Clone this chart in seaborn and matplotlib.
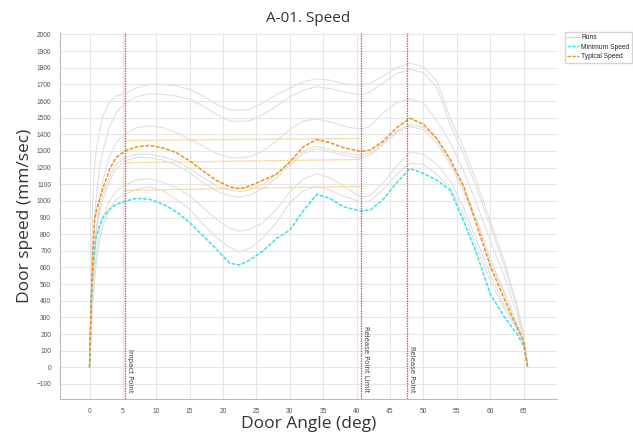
import seaborn as sns
import matplotlib.pyplot as plt
import pandas as pd
from matplotlib.ticker import MultipleLocator

# door angle knots (deg)
angle = [0, 0.25, 0.5, 0.75, 1, 1.5, 2, 3, 4, 5.3, 7, 9, 11, 13, 15, 17, 19, 21, 22.5, 24,
         26, 28, 30, 32, 34, 36, 38, 40.6, 42, 44, 46, 48, 50, 52, 54, 56, 58, 60, 62, 64, 65, 65.6]

# individual runs (mm/sec)
run1 = [0, 500, 1023, 1200, 1300, 1420, 1510, 1595, 1630, 1643, 1680, 1700, 1700, 1690, 1670, 1630, 1580, 1548, 1545, 1550,
        1590, 1640, 1675, 1715, 1733, 1725, 1705, 1694, 1705, 1750, 1800, 1827, 1805, 1720, 1500, 1320, 1110, 880, 650, 380, 200, 0]
run2 = [0, 350, 700, 900, 1020, 1200, 1300, 1450, 1530, 1587, 1625, 1643, 1640, 1630, 1610, 1570, 1520, 1480, 1478, 1482,
        1520, 1570, 1625, 1665, 1687, 1675, 1655, 1637, 1655, 1710, 1765, 1790, 1770, 1680, 1460, 1280, 1070, 850, 620, 360, 185, 0]
run3 = [0, 250, 500, 700, 820, 1000, 1120, 1270, 1350, 1403, 1440, 1450, 1440, 1410, 1370, 1330, 1285, 1260, 1258, 1265,
        1300, 1360, 1430, 1480, 1493, 1475, 1450, 1429, 1450, 1530, 1590, 1613, 1590, 1480, 1350, 1180, 980, 760, 560, 320, 180, 0]
run4 = [0, 300, 550, 720, 830, 960, 1040, 1150, 1220, 1259, 1280, 1280, 1265, 1240, 1195, 1140, 1090, 1062, 1057, 1065,
        1100, 1160, 1230, 1300, 1327, 1310, 1290, 1273, 1290, 1350, 1420, 1459, 1440, 1370, 1240, 1080, 890, 650, 460, 270, 165, 0]
run5 = [0, 280, 520, 690, 800, 930, 1010, 1120, 1195, 1239, 1262, 1260, 1245, 1215, 1170, 1110, 1060, 1030, 1023, 1035,
        1075, 1140, 1215, 1285, 1313, 1295, 1275, 1259, 1275, 1340, 1410, 1447, 1425, 1350, 1220, 1060, 870, 640, 450, 260, 160, 0]
run6 = [0, 220, 420, 570, 680, 820, 900, 1000, 1060, 1093, 1125, 1133, 1110, 1080, 1030, 960, 890, 835, 817, 830,
        870, 950, 1055, 1130, 1163, 1140, 1090, 1023, 1030, 1110, 1210, 1295, 1280, 1220, 1120, 960, 760, 560, 380, 240, 140, 0]
run7 = [0, 200, 380, 520, 620, 760, 850, 950, 1010, 1040, 1070, 1085, 1060, 1010, 950, 860, 780, 720, 693, 715,
        780, 870, 990, 1060, 1087, 1065, 1030, 993, 1000, 1070, 1160, 1225, 1220, 1160, 1080, 920, 720, 520, 360, 230, 140, 0]

minimum = [0, 400, 583, 700, 783, 850, 900, 950, 980, 997, 1015, 1010, 980, 935, 870, 790, 710, 625, 615, 645,
           700, 775, 825, 940, 1039, 1015, 965, 940, 945, 1010, 1110, 1195, 1165, 1125, 1065, 880, 680, 440, 310, 200, 130, 0]
typical = [0, 380, 683, 880, 940, 1010, 1075, 1190, 1262, 1299, 1325, 1333, 1318, 1290, 1240, 1180, 1123, 1085, 1073, 1090,
           1125, 1160, 1235, 1325, 1369, 1350, 1320, 1297, 1305, 1360, 1440, 1497, 1460, 1375, 1250, 1090, 850, 610, 420, 240, 160, 0]

# typical speed band between impact point and release point limit
band_x = [5.25, 40.6]
band_hi = [1363, 1375]
band_mid = [1229, 1249]
band_lo = [1063, 1087]

markers = {'Impact Point': 5.25, 'Release Point Limit': 40.6, 'Release Point': 47.5}

runs = pd.DataFrame({
    'angle': angle * 7,
    'speed': run1 + run2 + run3 + run4 + run5 + run6 + run7,
    'run': sum([[i] * len(angle) for i in range(7)], []),
})

sns.set_style('white')
plt.rcParams['font.family'] = ['DejaVu Sans']
fig = plt.figure(figsize=(6.33, 4.37), dpi=100)
ax = fig.add_axes([0.095, 0.087, 0.785, 0.838])

sns.lineplot(data=runs, x='angle', y='speed', units='run', estimator=None, color='#e0e0e0',
             lw=0.8, ax=ax, legend=False)
for yy in (band_hi, band_mid, band_lo):
    sns.lineplot(x=band_x, y=yy, color='#f8d594', lw=1.0, ax=ax, linestyle=(0, (1.5, 0.5)))
sns.lineplot(x=angle, y=minimum, color='#3ee0e6', lw=1.1, ax=ax, linestyle=(0, (2.5, 1)))
sns.lineplot(x=angle, y=typical, color='#f0921e', lw=1.1, ax=ax, linestyle=(0, (2.5, 1)))

for name, xv in markers.items():
    ax.axvline(xv, color='#f04848', lw=0.9, ls=(0, (1.2, 0.8)))
    ax.text(xv + 0.35, -150, name, rotation=-90, rotation_mode='anchor', ha='right', va='bottom',
            fontsize=5, color='#444444')

ax.set_xlim(-4.4, 70)
ax.set_ylim(-190, 2010)
ax.xaxis.set_major_locator(MultipleLocator(5))
ax.xaxis.set_minor_locator(MultipleLocator(1))
ax.yaxis.set_major_locator(MultipleLocator(100))
ax.yaxis.set_minor_locator(MultipleLocator(20))
ax.set_xticks([t for t in range(0, 70, 5)])
ax.grid(True, which='major', color='#e6e6e6', lw=0.8)
ax.tick_params(which='both', direction='out', colors='#999999', labelcolor='#555555', labelsize=4.8)
ax.tick_params(which='major', length=3)
ax.tick_params(which='minor', length=1.5)
for lbl in ax.get_xticklabels() + ax.get_yticklabels():
    lbl.set_family('Liberation Sans')
for s in ('top', 'right'):
    ax.spines[s].set_visible(False)
for s in ('left', 'bottom'):
    ax.spines[s].set_color('#bbbbbb')

ax.set_title('A-01. Speed', fontsize=11, color='#333333', pad=8, family='Open Sans')
ax.set_xlabel('Door Angle (deg)', fontsize=12.5, color='#333333', labelpad=1, family='Open Sans')
ax.set_ylabel('Door speed (mm/sec)', fontsize=12.5, color='#333333', family='Open Sans')
ax.yaxis.set_label_coords(-0.054, 0.5)

handles = [plt.Line2D([], [], color='#d8d8d8', lw=1),
           plt.Line2D([], [], color='#3ee0e6', lw=1, ls=(0, (2.5, 1))),
           plt.Line2D([], [], color='#f0921e', lw=1, ls=(0, (2.5, 1)))]
fig.legend(handles, ['Runs', 'Minimum Speed', 'Typical Speed'], loc='upper left',
           bbox_to_anchor=(0.887, 0.935), frameon=True, fancybox=False,
           prop={'family': 'Liberation Sans', 'size': 4.8},
           edgecolor='#cccccc', handlelength=1.8, handletextpad=0.3, borderpad=0.4, labelspacing=0.35)

fig.savefig('out.png', dpi=100)
